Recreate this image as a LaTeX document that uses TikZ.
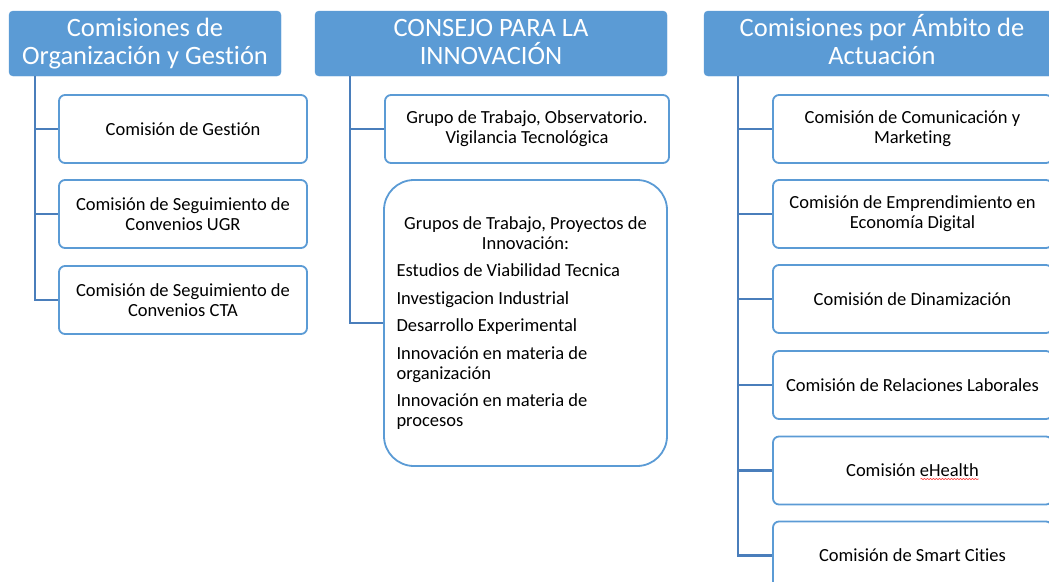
\documentclass[tikz,border=0pt]{standalone}
\usepackage{fontspec}
\setmainfont{Carlito}[Ligatures={NoCommon}]
\usetikzlibrary{decorations.pathmorphing}
\definecolor{hdr}{HTML}{5B9BD5}
\definecolor{bord}{HTML}{5B9BD5}
\definecolor{conn}{HTML}{4A7EBB}
\tikzset{
  header/.style={draw=hdr, fill=hdr, rounded corners=4pt, minimum height=65pt, text=white, align=center, inner sep=0pt, text height=47.5pt, text depth=6pt, font=\fontsize{26.5}{27.5}\selectfont},
  box/.style={draw=bord, line width=1.8pt, fill=white, rounded corners=6pt, minimum height=68pt, align=center, inner sep=0pt, font=\fontsize{18.5}{20}\selectfont},
  link/.style={draw=conn, line width=2.4pt}
}
\begin{document}
\begin{tikzpicture}[x=1pt, y=-1pt]
\useasboundingbox (0,0) rectangle (1049,581);
\clip (0,0) rectangle (1049,581);
% headers
\node[header, minimum width=272pt] (h1) at (145,43.5) {Comisiones de\\Organización y Gestión};
\node[header, minimum width=352pt] (h2) at (491,43.5) {CONSEJO PARA LA\\INNOVACIÓN};
\node[header, minimum width=356pt] (h3) at (882,43.5) {Comisiones por Ámbito de\\Actuación};
% column 1
\node[box, minimum width=248pt] (b11) at (183,129) {Comisión de Gestión};
\node[box, minimum width=248pt] (b12) at (183,214) {Comisión de Seguimiento de\\Convenios UGR};
\node[box, minimum width=248pt] (b13) at (183,300) {Comisión de Seguimiento de\\Convenios CTA};
% column 2
\node[box, minimum width=284pt] (b21) at (527,129) {Grupo de Trabajo, Observatorio.\\Vigilancia Tecnológica};
\node[box, minimum width=283pt, minimum height=286pt, rounded corners=30pt] (b22) at (525.5,323) {%
\begin{minipage}{258pt}\setlength{\parskip}{7.5pt}\centering Grupos de Trabajo, Proyectos de\\Innovación:\par
\raggedright Estudios de Viabilidad Tecnica\par
Investigacion Industrial\par
Desarrollo Experimental\par
Innovación en materia de\\organización\par
Innovación en materia de\\procesos\par
\end{minipage}};
% column 3
\node[box, minimum width=279pt] (b31) at (912.5,129) {Comisión de Comunicación y\\Marketing};
\node[box, minimum width=279pt] (b32) at (912.5,214) {Comisión de Emprendimiento en\\Economía Digital};
\node[box, minimum width=279pt] (b33) at (912.5,299) {Comisión de Dinamización};
\node[box, minimum width=279pt] (b34) at (912.5,385) {Comisión de Relaciones Laborales};
\node[box, minimum width=279pt] (b35) at (912.5,470.5) {Comisión eHealth};
\node[box, minimum width=279pt] (b36) at (912.5,555.5) {Comisión de Smart Cities};
% spell-check underline
\draw[red!80, line width=0.6pt, decorate, decoration={snake, amplitude=0.6pt, segment length=3pt}]
  ([xshift=8pt,yshift=-8.5pt]b35.center) -- ([xshift=66pt,yshift=-8.5pt]b35.center);
% connectors
\foreach \b in {b11,b12,b13}{\draw[link] ([xshift=26pt]h1.south west) |- (\b.west);}
\foreach \b in {b21,b22}{\draw[link] ([xshift=35pt]h2.south west) |- (\b.west);}
\foreach \b in {b31,b32,b33,b34,b35,b36}{\draw[link] ([xshift=34pt]h3.south west) |- (\b.west);}
\end{tikzpicture}
\end{document}
